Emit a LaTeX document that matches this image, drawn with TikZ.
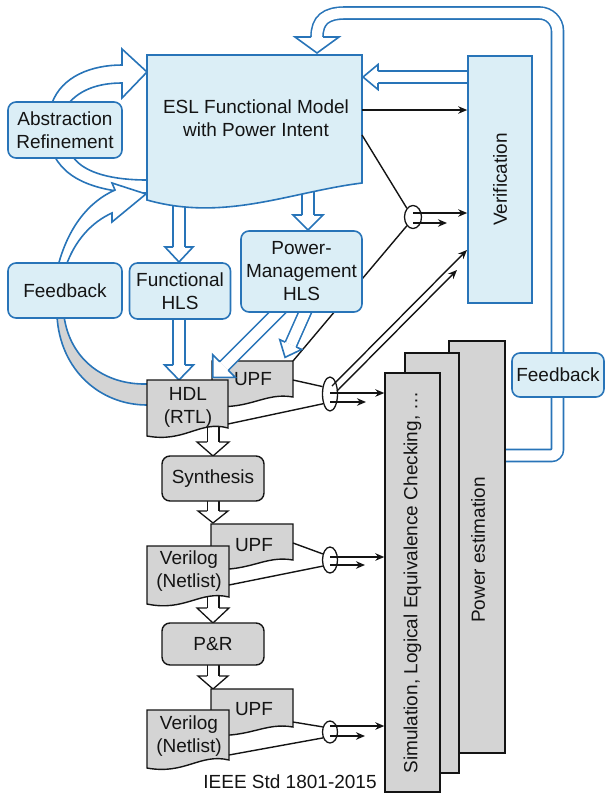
\documentclass[tikz,border=0pt]{standalone}
\usepackage{fontspec}
\setmainfont{Liberation Sans}
\usetikzlibrary{shapes.geometric,arrows.meta,calc}
\definecolor{bl}{RGB}{40,116,184}
\definecolor{lbl}{RGB}{219,238,246}
\definecolor{gr}{RGB}{212,212,212}
\definecolor{ink}{RGB}{20,20,20}
\newcommand{\dfont}{\fontsize{19}{23}\selectfont}
\newcommand{\ahead}[5][]{\begin{scope}[shift={#2},rotate=#3]\filldraw[headshape,#1] (0,-6) -- (0,-#5) -- (#4,0) -- (0,#5) -- (0,6);\end{scope}}
\newcommand{\blockarrow}[6][]{\begin{scope}[shift={#2},rotate=#3]\draw[shaftline,#1] (0,0) -- (#4,0);\filldraw[headshape,#1] (#4,-6) -- (#4,-#6) -- ({#4+#5},0) -- (#4,#6) -- (#4,6);\end{scope}}
\begin{document}
\begin{tikzpicture}[x=1pt,y=-1pt,
 shaftline/.style={draw=bl,line width=1.6pt,double=white,double distance=10.4pt},
 headshape/.style={draw=bl,fill=white,line width=1.6pt,line join=miter},
 bcurve/.style={draw=bl,line width=1.6pt},
 blk/.style={draw=ink,line width=1.3pt},
 blkline/.style={draw=ink,line width=1.4pt},
 barrow/.style={blkline,-{Stealth[length=9pt,width=7.5pt]}},
 ell/.style={ellipse,draw=ink,line width=1.3pt,inner sep=0pt},
 bbox/.style={draw=bl,fill=lbl,line width=1.6pt,rounded corners=8pt,align=center,inner sep=1pt,text=ink,font=\dfont},
 gbox/.style={draw=ink,fill=gr,line width=1.4pt,align=center,inner sep=1pt,text=ink,font=\dfont},
 docshape/.style={draw=ink,fill=gr,line width=1.4pt},
 eslshape/.style={draw=bl,fill=lbl,line width=1.6pt},
 txt/.style={align=center,text=ink,font=\dfont,inner sep=0pt}]
\useasboundingbox (0,0) rectangle (605,796);

% ellipses (junctions)
\node[ell,minimum width=17pt,minimum height=23pt] (e0) at (413,217) {};
\node[ell,minimum width=15pt,minimum height=34pt] (e1) at (330,394) {};
\node[ell,minimum width=15pt,minimum height=26pt] (e2) at (330,560) {};
\node[ell,minimum width=15pt,minimum height=22pt] (e3) at (330,732) {};

% right feedback loop
\draw[shaftline] (505,455.5) [rounded corners=6pt] -- (557.5,455.5) -- (557.5,300) [rounded corners=18pt] -- (557.5,13) -- (450,13) [sharp corners] -- (345,13) .. controls (326,13) and (317,20) .. (317,37);
\ahead{(317,37)}{-90}{16}{22}

% abstraction refinement loop
\filldraw[headshape] (52,103) .. controls (62,76) and (92,65) .. (122,65) -- (122,49) -- (147,72) -- (122,98) -- (122,83) .. controls (98,83) and (80,90) .. (69,103);
\fill[white] (55,157) .. controls (70,185) and (110,193) .. (147,193) -- (147,180) .. controls (115,180) and (85,174) .. (73,157) -- cycle;
\draw[bcurve] (55,157) .. controls (70,185) and (110,193) .. (147,193);
\draw[bcurve] (73,157) .. controls (85,174) and (115,180) .. (147,180);

% left feedback arrow
\fill[gr] (57,316) .. controls (60,370) and (100,405) .. (147,405) -- (147,384) .. controls (105,385) and (70,360) .. (64,316) -- cycle;
\draw[bcurve] (57,316) .. controls (60,370) and (100,405) .. (147,405);
\draw[bcurve] (64,316) .. controls (70,360) and (105,385) .. (147,384);
\filldraw[headshape] (58,266) .. controls (68,228) and (88,202) .. (115,190) -- (112,183) -- (146,194) -- (112,222) -- (112,213) .. controls (92,222) and (75,240) .. (66,266);

% line from UPF to junction (behind Power-Management HLS)
\coordinate (upfTR) at (293,361);
\draw[blkline] (upfTR) -- (e0.235);

% block arrows
\blockarrow{(179,200)}{-90}{47}{15}{14}
\blockarrow{(308,180)}{-90}{35}{15}{15}
\blockarrow{(179,315)}{-90}{50}{15}{14.5}
\blockarrow{(475,77)}{180}{97}{15}{12.5}
\blockarrow{(307,308)}{-114}{40}{14}{12}
\blockarrow[blk]{(213,425)}{-90}{17}{14}{16}
\blockarrow[blk]{(213,498)}{-90}{13}{12}{15}
\blockarrow[blk]{(213,595)}{-90}{13}{15}{16}
\blockarrow[blk]{(213,662)}{-90}{14}{13}{15}

% ESL functional model
\filldraw[eslshape] (147,55) -- (362,55) -- (362,183) .. controls (290,192) and (225,222) .. (147,200) -- cycle;
\node[txt] (esl) at (256,118) {ESL Functional Model\\with Power Intent};

\node[bbox,minimum width=114pt,minimum height=56pt] (ar) at (65,130) {Abstraction\\Refinement};
\node[bbox,minimum width=114pt,minimum height=55pt] (fbl) at (65,290.5) {Feedback};
\node[bbox,minimum width=101pt,minimum height=56pt] (fhls) at (180,291) {Functional\\HLS};
\node[bbox,rounded corners=0pt,minimum width=64pt,minimum height=247pt] (verif) at (500,179.5) {};
\node[txt,rotate=90] at (verif) {Verification};

% stacked analysis boxes
\node[gbox,minimum width=56pt,minimum height=412pt] (pe) at (477,547) {};
\node[txt,rotate=90] at (478,550) {Power estimation};
\node[gbox,minimum width=54pt,minimum height=420pt] (mid) at (432,563) {};
\node[gbox,minimum width=55pt,minimum height=419pt] (sim) at (412.5,582.5) {};
\node[txt,rotate=90] at (sim) {Simulation, Logical Equivalence Checking, …};

\node[bbox,minimum width=92pt,minimum height=44pt] (fbr) at (558,375) {Feedback};

% RTL level
\filldraw[docshape] (212,361) -- (293,361) -- (293,397) .. controls (265,392) and (250,410) .. (212,406) -- cycle;
\node[txt] (upf1) at (253,379) {UPF};
\filldraw[docshape] (147,380) -- (228,380) -- (228,428) .. controls (200,420) and (185,443) .. (147,436) -- cycle;
\node[txt] (hdl) at (188,407) {HDL\\(RTL)};

\node[gbox,rounded corners=8pt,minimum width=102pt,minimum height=45pt] (syn) at (213,478.5) {Synthesis};

% netlist level 1
\filldraw[docshape] (211,524) -- (293,524) -- (293,560) .. controls (265,555) and (250,572) .. (211,569) -- cycle;
\node[txt] (upf2) at (254,545) {UPF};
\filldraw[docshape] (147,546) -- (229,546) -- (229,597) .. controls (200,590) and (185,612) .. (147,604) -- cycle;
\node[txt] (ver1) at (189,571.5) {Verilog\\(Netlist)};

\node[gbox,rounded corners=8pt,minimum width=102pt,minimum height=42pt] (pr) at (213,644) {P\&R};

% netlist level 2
\filldraw[docshape] (211,689) -- (293,689) -- (293,727) .. controls (265,722) and (250,738) .. (211,735) -- cycle;
\node[txt] (upf3) at (254,709) {UPF};
\filldraw[docshape] (147,710) -- (229,710) -- (229,760) .. controls (200,753) and (185,775) .. (147,768) -- cycle;
\node[txt] (ver2) at (189,736.5) {Verilog\\(Netlist)};

% power-management arrow to HDL/UPF
\blockarrow{(282,308)}{-135}{82}{16}{16}
\node[bbox,minimum width=121pt,minimum height=81pt] (pmhls) at (301.5,271.5) {Power-\\Management\\HLS};

% black connectors
\coordinate (eslR1) at (362,110);
\coordinate (eslR2) at (362,135);
\draw[barrow] (eslR1) -- (eslR1 -| verif.west);
\draw[blkline] (eslR2) -- (e0.125);
\coordinate (e0a) at ($(e0)+(0,-4)$);
\coordinate (e0b) at ($(e0)+(0,6)$);
\draw[barrow] (e0a) -- (e0a -| verif.west);
\draw[barrow] (e0b) -- ++(34,0);

\coordinate (upf1R) at (293,380);
\coordinate (hdlR) at (228,424);
\draw[blkline] (upf1R) -- (e1.135);
\draw[blkline] (hdlR) -- (e1.235);
\coordinate (e1a) at ($(e1)+(0,-1)$);
\coordinate (e1b) at ($(e1)+(0,8)$);
\draw[barrow] (e1a) -- (e1a -| sim.west);
\draw[barrow] (e1b) -- ++(36,0);
\coordinate (e1c) at ($(e1)+(2,-8)$);
\coordinate (e1d) at ($(e1)+(7,-3)$);
\coordinate (v1) at (467,250);
\coordinate (v2) at (457,270);
\draw[barrow] (e1c) -- (v1);
\draw[barrow] (e1d) -- (v2);

\coordinate (upf2R) at (293,543);
\coordinate (ver1R) at (229,585);
\draw[blkline] (upf2R) -- (e2.140);
\draw[blkline] (ver1R) -- (e2.220);
\coordinate (e2a) at ($(e2)+(0,-3)$);
\coordinate (e2b) at ($(e2)+(0,5)$);
\draw[barrow] (e2a) -- (e2a -| sim.west);
\draw[barrow] (e2b) -- ++(35,0);

\coordinate (upf3R) at (293,722);
\coordinate (ver2R) at (229,755);
\draw[blkline] (upf3R) -- (e3.145);
\draw[blkline] (ver2R) -- (e3.220);
\coordinate (e3a) at ($(e3)+(0,-6)$);
\coordinate (e3b) at ($(e3)+(0,4)$);
\draw[barrow] (e3a) -- (e3a -| sim.west);
\draw[barrow] (e3b) -- ++(35,0);

\node[txt] (ieee) at (290,782) {IEEE Std 1801-2015};
\end{tikzpicture}
\end{document}
